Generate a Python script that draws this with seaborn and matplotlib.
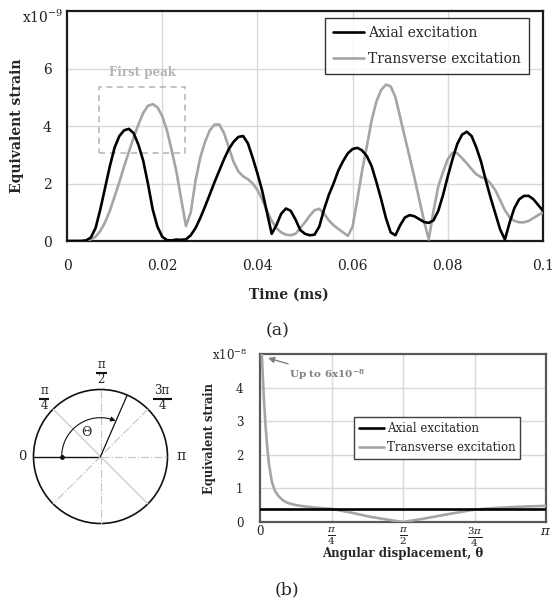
import numpy as np
import pandas as pd
import matplotlib
matplotlib.use("Agg")
import matplotlib.pyplot as plt
from matplotlib.patches import Circle, Rectangle
import seaborn as sns

# ---------------- data: (a) time response ----------------
time_ms = np.round(np.linspace(0.0, 0.1, 101), 3)

axial_strain = [
    0.00, 0.00, 0.00, 0.00, 0.02, 0.12, 0.45, 1.10, 1.85, 2.60,
    3.25, 3.65, 3.85, 3.90, 3.75, 3.35, 2.80, 2.00, 1.10, 0.50,
    0.15, 0.03, 0.02, 0.05, 0.04, 0.06, 0.20, 0.45, 0.80, 1.20,
    1.62, 2.05, 2.45, 2.85, 3.20, 3.45, 3.62, 3.65, 3.40, 2.90,
    2.35, 1.75, 1.00, 0.25, 0.55, 0.95, 1.13, 1.05, 0.75, 0.38,
    0.25, 0.20, 0.22, 0.50, 1.10, 1.60, 2.00, 2.45, 2.78, 3.05,
    3.20, 3.24, 3.15, 2.95, 2.60, 2.05, 1.45, 0.80, 0.30, 0.20,
    0.55, 0.82, 0.90, 0.86, 0.76, 0.66, 0.63, 0.72, 1.05, 1.60,
    2.25, 2.85, 3.38, 3.70, 3.80, 3.65, 3.25, 2.75, 2.10, 1.50,
    0.95, 0.40, 0.05, 0.65, 1.15, 1.45, 1.57, 1.57, 1.45, 1.25,
    1.05,
]

transverse_strain = [
    0.00, 0.00, 0.00, 0.00, 0.02, 0.06, 0.15, 0.35, 0.65, 1.05,
    1.55, 2.05, 2.60, 3.10, 3.60, 4.05, 4.45, 4.70, 4.76, 4.65,
    4.35, 3.85, 3.15, 2.40, 1.45, 0.52, 1.00, 2.10, 2.90, 3.45,
    3.85, 4.05, 4.05, 3.75, 3.25, 2.75, 2.42, 2.25, 2.15, 2.00,
    1.78, 1.45, 1.05, 0.70, 0.45, 0.30, 0.22, 0.20, 0.25, 0.45,
    0.65, 0.88, 1.07, 1.12, 0.95, 0.72, 0.55, 0.42, 0.30, 0.18,
    0.50, 1.45, 2.45, 3.30, 4.20, 4.85, 5.25, 5.44, 5.38, 5.00,
    4.30, 3.60, 2.90, 2.20, 1.45, 0.70, 0.05, 1.05, 1.90, 2.40,
    2.85, 3.07, 3.05, 2.88, 2.70, 2.50, 2.32, 2.22, 2.17, 2.00,
    1.76, 1.42, 1.07, 0.82, 0.70, 0.65, 0.65, 0.70, 0.80, 0.90,
    1.00,
]

time_ticks = [0, 0.02, 0.04, 0.06, 0.08, 0.1]
time_tick_labels = ["0", "0.02", "0.04", "0.06", "0.08", "0.1"]
strain_ticks_a = [0, 2, 4, 6]

# ---------------- data: (b) angular dependence ----------------
theta_transverse = [0.0, 0.02, 0.04, 0.06, 0.08, 0.10, 0.13, 0.16, 0.20, 0.25,
                    0.30, 0.40, 0.50, 0.60, 0.785, 1.0, 1.2, 1.4, 1.5708,
                    1.8, 2.0, 2.356, 2.6, 2.9, 3.1416]
strain_transverse = [6.0, 5.0, 3.8, 2.9, 2.2, 1.7, 1.2, 0.95, 0.78, 0.65,
                     0.57, 0.50, 0.46, 0.43, 0.39, 0.28, 0.16, 0.07, 0.0,
                     0.10, 0.20, 0.37, 0.42, 0.46, 0.48]
theta_axial = [0.0, 0.785, 1.5708, 2.356, 3.1416]
strain_axial = [0.40, 0.40, 0.40, 0.40, 0.40]

theta_ticks = [0, np.pi / 4, np.pi / 2, 3 * np.pi / 4, np.pi]
theta_tick_labels = ["0", r"$\frac{\pi}{4}$", r"$\frac{\pi}{2}$",
                     r"$\frac{3\pi}{4}$", r"$\pi$"]
strain_ticks_b = [0, 1, 2, 3, 4]

# ---------------- style ----------------
sns.set_theme(style="white")
plt.rcParams["font.family"] = ["DejaVu Serif"]
plt.rcParams["mathtext.fontset"] = "dejavuserif"
plt.rcParams["lines.solid_joinstyle"] = "round"

BLACK = "#000000"
GREY = "#a5a5a5"
GRID = "#d9d9d9"

W, H = 553, 603
fig = plt.figure(figsize=(W / 100, H / 100), dpi=100)


def fx(px):
    return px / W


def fy(py):
    return 1 - py / H


# ---------------- panel (a) ----------------
ax1 = fig.add_axes([fx(67), fy(241), fx(543) - fx(67), fy(11) - fy(241)])
df_a = pd.DataFrame({"t": time_ms, "axial": axial_strain,
                     "transverse": transverse_strain})
sns.lineplot(data=df_a, x="t", y="axial", ax=ax1, color=BLACK, lw=1.9,
             label="Axial excitation", zorder=4)
sns.lineplot(data=df_a, x="t", y="transverse", ax=ax1, color=GREY, lw=1.9,
             label="Transverse excitation", zorder=3)
ax1.set_xlim(0, 0.1)
ax1.set_ylim(0, 8)
ax1.set_xticks(time_ticks)
ax1.set_xticklabels(time_tick_labels)
ax1.set_yticks(strain_ticks_a)
ax1.tick_params(axis="both", length=0, labelsize=10, colors="#222222")
ax1.tick_params(axis="x", pad=13)
ax1.tick_params(axis="y", pad=11)
for v in [0.02, 0.04, 0.06, 0.08]:
    ax1.axvline(v, color=GRID, lw=1.0, zorder=0)
for v in [2, 4, 6]:
    ax1.axhline(v, color=GRID, lw=1.0, zorder=0)
for s in ax1.spines.values():
    s.set_color("#1a1a1a")
    s.set_linewidth(1.6)
ax1.set_xlabel("")
ax1.set_ylabel("")

# first-peak marker box
ax1.add_patch(Rectangle((0.0067, 3.07), 0.0181, 2.27, fill=False,
                        ls=(0, (4, 3)), lw=1.1, ec="#b3b3b3", zorder=2))
ax1.text(0.0158, 5.85, "First peak", color="#b3b3b3", fontsize=8.5,
         fontweight="bold", ha="center", va="center")

leg1 = ax1.legend(loc="upper right", bbox_to_anchor=(0.9706, 0.9696),
                  borderaxespad=0, fontsize=10, frameon=True, fancybox=False,
                  handlelength=2.2, handletextpad=0.3, labelspacing=0.85,
                  borderpad=0.6)
leg1.get_frame().set_edgecolor("#000000")
leg1.get_frame().set_linewidth(1.0)
for line in leg1.get_lines():
    line.set_linewidth(1.9)

fig.text(fx(63), fy(17), r"x10$^{\mathregular{-9}}$", ha="right",
         va="center", fontsize=10, color="#222222")
fig.text(fx(17), fy(126), "Equivalent strain", rotation=90, ha="center",
         va="center", fontsize=10, fontweight="bold")
fig.text(fx(289), fy(295), "Time (ms)", ha="center", va="center",
         fontsize=10, fontweight="bold")
fig.text(fx(278), fy(331), "(a)", ha="center", va="center", fontsize=12.5)

# ---------------- panel (b) ----------------
ax2 = fig.add_axes([fx(260), fy(522), fx(546) - fx(260), fy(354) - fy(522)])
df_tr = pd.DataFrame({"theta": theta_transverse, "strain": strain_transverse})
df_ax = pd.DataFrame({"theta": theta_axial, "strain": strain_axial})
sns.lineplot(data=df_ax, x="theta", y="strain", ax=ax2, color=BLACK, lw=1.9,
             label="Axial excitation", zorder=4)
sns.lineplot(data=df_tr, x="theta", y="strain", ax=ax2, color=GREY, lw=1.9,
             label="Transverse excitation", zorder=3)
ax2.set_xlim(0, np.pi)
ax2.set_ylim(0, 5)
ax2.set_xticks(theta_ticks)
ax2.set_xticklabels(theta_tick_labels)
ax2.set_yticks(strain_ticks_b)
ax2.tick_params(axis="both", length=0, labelsize=8.5, colors="#222222")
ax2.tick_params(axis="x", pad=2)
ax2.tick_params(axis="y", pad=12)
for lab in ax2.get_xticklabels()[1:4]:
    lab.set_fontsize(10.5)
ax2.get_xticklabels()[-1].set_fontsize(9.5)
for v in theta_ticks[1:4]:
    ax2.axvline(v, color=GRID, lw=1.0, zorder=0)
for v in [1, 2, 3, 4]:
    ax2.axhline(v, color=GRID, lw=1.0, zorder=0)
for s in ax2.spines.values():
    s.set_color("#595959")
    s.set_linewidth(1.6)
ax2.set_xlabel("")
ax2.set_ylabel("")

leg2 = ax2.legend(loc="upper right", bbox_to_anchor=(0.909, 0.625),
                  borderaxespad=0, fontsize=8.5, frameon=True, fancybox=False,
                  handlelength=2.1, handletextpad=0.25, labelspacing=0.55,
                  borderpad=0.4)
leg2.get_frame().set_edgecolor("#404040")
leg2.get_frame().set_linewidth(1.0)
leg2.get_frame().set_alpha(1)
for line in leg2.get_lines():
    line.set_linewidth(1.9)

ax2.annotate(r"Up to 6x10$^{\mathregular{-8}}$", xy=(0.088, 4.88),
             xytext=(0.74, 4.37), ha="center", va="center", fontsize=7.5,
             fontweight="bold", color="#808080",
             arrowprops=dict(arrowstyle="-|>", color="#808080", lw=1.0,
                             mutation_scale=9, shrinkA=2, shrinkB=0))

fig.text(fx(247), fy(355), r"x10$^{\mathregular{-8}}$", ha="right",
         va="center", fontsize=8.5, color="#222222")
fig.text(fx(209), fy(438), "Equivalent strain", rotation=90, ha="center",
         va="center", fontsize=8.3, fontweight="bold")
fig.text(fx(403), fy(553), "Angular displacement, θ", ha="center",
         va="center", fontsize=8.5, fontweight="bold")
fig.text(fx(287), fy(590), "(b)", ha="center", va="center", fontsize=12.5)

# ---------------- angle sketch ----------------
axc = fig.add_axes([0, fy(560), fx(230), fy(340) - fy(560)])
axc.set_xlim(0, 230)
axc.set_ylim(560, 340)
axc.axis("off")

cx, cy, R = 100.5, 456.5, 67.0
LIGHT = "#c8c8c8"
axc.add_patch(Circle((cx, cy), R, fill=False, ec="#111111", lw=1.2))
axc.plot([cx - R, cx], [cy, cy], color="#111111", lw=1.0)
axc.plot([cx, cx + R], [cy, cy], color=LIGHT, lw=0.9, ls="-.")
axc.plot([cx, cx], [cy - R, cy + R], color=LIGHT, lw=0.9, ls="-.")
d = R * np.cos(np.pi / 4)
axc.plot([cx - d, cx + d], [cy - d, cy + d], color=LIGHT, lw=0.9, ls="-")
axc.plot([cx + d, cx - d], [cy - d, cy + d], color=LIGHT, lw=0.9, ls="-.")

ang = np.deg2rad(66.5)
axc.plot([cx, cx + R * np.cos(ang)], [cy, cy - R * np.sin(ang)],
         color="#111111", lw=0.9)
axc.plot([62], [cy], marker="o", ms=2.5, color="#111111")

r_arc = 38.8
arc = np.deg2rad(np.linspace(180, 72, 60))
axc.plot(cx + r_arc * np.cos(arc), cy - r_arc * np.sin(arc), color="#111111",
         lw=0.8)
a_end, a_pre = np.deg2rad(67), np.deg2rad(74)
axc.annotate("", xy=(cx + r_arc * np.cos(a_end), cy - r_arc * np.sin(a_end)),
             xytext=(cx + r_arc * np.cos(a_pre), cy - r_arc * np.sin(a_pre)),
             arrowprops=dict(arrowstyle="-|>", color="#111111", lw=0.8,
                             mutation_scale=7, shrinkA=0, shrinkB=0))
axc.text(86, 432, "Θ", fontsize=9, ha="center", va="center")

axc.text(22, 457, "0", fontsize=9.5, ha="center", va="center")
axc.text(181, 456, "π", fontsize=10, ha="center", va="center")


def fraction(x, y_num, y_bar, y_den, num, den, half):
    axc.text(x, y_num, num, fontsize=8.5, ha="center", va="center")
    axc.plot([x - half, x + half], [y_bar, y_bar], color="#111111", lw=1.5,
             solid_capstyle="butt")
    axc.text(x, y_den, den, fontsize=8.5, ha="center", va="center")


fraction(101, 365, 372.5, 379.5, "π", "2", 5.5)
fraction(44, 390, 399, 405.5, "π", "4", 5)
fraction(162, 390, 399, 405.5, "3π", "4", 9.5)

fig.savefig("out.png", dpi=100)
